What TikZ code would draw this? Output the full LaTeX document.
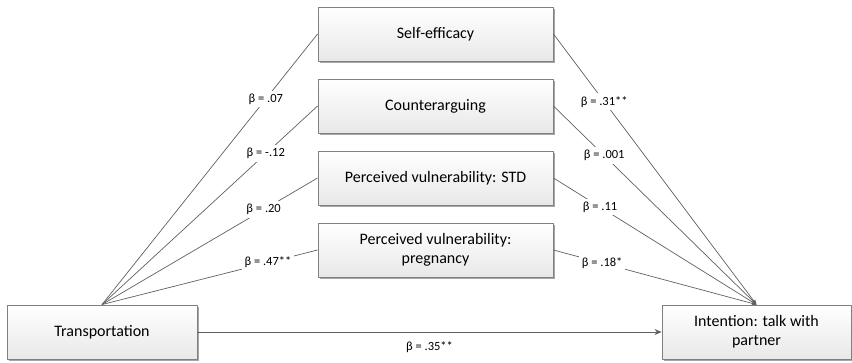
\documentclass[tikz,border=0pt]{standalone}
\usepackage{fontspec}
\setmainfont{Carlito}
\usetikzlibrary{arrows.meta,positioning,shadows}
\definecolor{edgegray}{RGB}{96,96,96}
\definecolor{boxgray}{RGB}{128,128,128}
\tikzset{
  varbox/.style={draw=boxgray, line width=0.9pt, minimum width=235pt, minimum height=54pt,
    top color=white, bottom color=gray!18, align=center,
    font=\fontsize{16}{19}\selectfont,
    drop shadow={shadow xshift=1.6pt, shadow yshift=-1.6pt, fill=gray!70, opacity=1}},
  link/.style={draw=edgegray, line width=0.7pt},
  beta/.style={fill=white, inner sep=3pt, font=\fontsize{12.5}{15}\selectfont}
}

\begin{document}
\begin{tikzpicture}[x=1pt, y=-1pt, line join=round]
\useasboundingbox (0,0) rectangle (852,362);
\node[varbox] (S) at (435.5,34)  {Self-efficacy};
\node[varbox] (C) at (435.5,106) {Counterarguing};
\node[varbox] (V) at (435.5,178) {Perceived vulnerability: STD};
\node[varbox] (P) at (435.5,250) {Perceived vulnerability:\\ pregnancy};
\node[varbox, minimum width=190pt] (T) at (102,332) {Transportation};
\node[varbox, minimum width=189pt] (I) at (756.5,332) {Intention: talk with\\ partner};
% a paths
\draw[link] (T.north) -- node[beta, pos=0.76] {β = .07} (S.west);
\draw[link] (T.north) -- node[beta, pos=0.76] {β = -.12} (C.west);
\draw[link] (T.north) -- node[beta, pos=0.75] {β = .20} (V.west);
\draw[link] (T.north) -- node[beta, pos=0.77] {β = .47**} (P.west);
% b paths
\draw[link, -{Stealth[length=5pt, width=4pt]}] (S.east) -- node[beta, pos=0.25] {β = .31**} (I.north);
\draw[link, -{Stealth[length=5pt, width=4pt]}] (C.east) -- node[beta, pos=0.25] {β = .001} (I.north);
\draw[link, -{Stealth[length=5pt, width=4pt]}] (V.east) -- node[beta, pos=0.23] {β = .11} (I.north);
\draw[link, -{Stealth[length=5pt, width=4pt]}] (P.east) -- node[beta, pos=0.24] {β = .18*} (I.north);
% direct path
\draw[link, -{Stealth[length=7pt, width=6pt]}] (T.east) -- node[beta, below=6pt, fill=none] {β = .35**} (I.west);
\end{tikzpicture}
\end{document}
